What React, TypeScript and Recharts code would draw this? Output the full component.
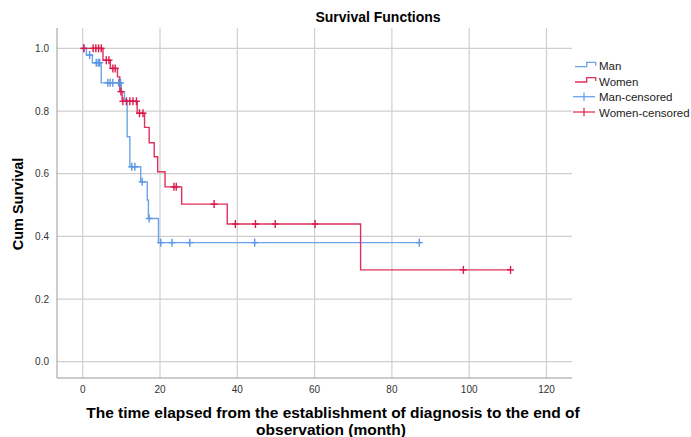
import React from "react";
import { ComposedChart, Line, Scatter, XAxis, YAxis, CartesianGrid } from "recharts";

// Man (Kaplan-Meier step curve)
const manTimes = [0, 0.95, 2.5, 4.8, 10.0, 10.8, 11.5, 12.2, 15.0, 16.7, 17.0, 19.6, 87.1];
const manSurvival = [1.0, 0.979, 0.954, 0.89, 0.862, 0.835, 0.718, 0.622, 0.574, 0.516, 0.457, 0.38, 0.38];
const manCensoredTimes = [0.3, 1.8, 3.5, 4.0, 4.4, 6.5, 7.1, 7.8, 9.3, 9.8, 12.7, 13.5, 15.4, 17.2, 20.2, 23.1, 27.7, 44.5, 87.1];
const manCensoredSurvival = [1.0, 0.979, 0.954, 0.954, 0.954, 0.89, 0.89, 0.89, 0.89, 0.89, 0.622, 0.622, 0.574, 0.457, 0.38, 0.38, 0.38, 0.38, 0.38];

// Women
const womenTimes = [0, 5.25, 7.15, 9.0, 9.6, 10.2, 14.1, 16.0, 17.2, 18.5, 19.4, 21.3, 25.6, 37.4, 71.9, 110.7];
const womenSurvival = [1.0, 0.962, 0.936, 0.909, 0.862, 0.831, 0.793, 0.748, 0.699, 0.654, 0.606, 0.558, 0.503, 0.4395, 0.293, 0.293];
const womenCensoredTimes = [0.3, 2.7, 3.4, 4.1, 4.8, 6.1, 6.8, 7.8, 8.4, 9.9, 10.4, 11.3, 12.2, 13.0, 13.9, 14.7, 15.6, 23.6, 24.2, 34.0, 39.5, 44.7, 49.8, 60.1, 98.5, 110.7];
const womenCensoredSurvival = [1.0, 1.0, 1.0, 1.0, 1.0, 0.962, 0.962, 0.936, 0.936, 0.862, 0.831, 0.831, 0.831, 0.831, 0.831, 0.793, 0.793, 0.558, 0.558, 0.503, 0.4395, 0.4395, 0.4395, 0.4395, 0.293, 0.293];

const xTicks = [0, 20, 40, 60, 80, 100, 120];
const yTicks = [0, 0.2, 0.4, 0.6, 0.8, 1.0];
const legendLabels = ["Man", "Women", "Man-censored", "Women-censored"];

const toPoints = (ts: number[], ss: number[]) => ts.map((t, i) => ({ t, s: ss[i] }));
const manCurve = toPoints(manTimes, manSurvival);
const manCensored = toPoints(manCensoredTimes, manCensoredSurvival);
const womenCurve = toPoints(womenTimes, womenSurvival);
const womenCensored = toPoints(womenCensoredTimes, womenCensoredSurvival);

const BLUE = "#6ba3ec";
const BLUE_MARK = "#5b96e4";
const RED = "#e0305c";
const RED_MARK = "#d81a4c";
const FONT = "'Liberation Sans', Arial, sans-serif";

const makeCross = (color: string) => (props: any) => {
  const { cx, cy } = props;
  if (cx == null || cy == null) return <g />;
  return (
    <g stroke={color} strokeWidth={1.4}>
      <line x1={cx - 3.5} x2={cx + 3.5} y1={cy} y2={cy} />
      <line x1={cx} x2={cx} y1={cy - 4} y2={cy + 4} />
    </g>
  );
};

const LegendBox = () => (
  <svg width={121} height={70} style={{ position: "absolute", left: 570, top: 55 }}>
    <g fontFamily={FONT} fontSize={11.5} fill="#222">
      <path d="M5,11.7 H16.7 V7.3 H25.7 V10.7" fill="none" stroke={BLUE} strokeWidth={1.3} />
      <text x={29} y={15}>{legendLabels[0]}</text>
      <path d="M5,27 H16.7 V22.6 H25.7 V26" fill="none" stroke={RED} strokeWidth={1.3} />
      <text x={29} y={31}>{legendLabels[1]}</text>
      <line x1={3} x2={25} y1={41.7} y2={41.7} stroke={BLUE} strokeWidth={1.3} />
      <line x1={14} x2={14} y1={37.5} y2={46} stroke={BLUE} strokeWidth={1.3} />
      <text x={29} y={46}>{legendLabels[2]}</text>
      <line x1={3} x2={25} y1={57} y2={57} stroke={RED} strokeWidth={1.3} />
      <line x1={14} x2={14} y1={52.8} y2={61.3} stroke={RED} strokeWidth={1.3} />
      <text x={29} y={61.5}>{legendLabels[3]}</text>
    </g>
  </svg>
);

const YTitle = () => (
  <text x={18} y={204} transform="rotate(-90 18 204)" textAnchor="middle" dominantBaseline="central"
    fontFamily={FONT} fontSize={14.5} fontWeight="bold" fill="#000">Cum Survival</text>
);

const XTitle = () => (
  <text textAnchor="middle" fontFamily={FONT} fontSize={15.5} fontWeight="bold" fill="#000">
    <tspan x={333} y={418}>The time elapsed from the establishment of diagnosis to the end of</tspan>
    <tspan x={331} y={434.5}>observation (month)</tspan>
  </text>
);

export default function App() {
  return (
    <div style={{ position: "absolute", left: 0, top: 0, width: 691, height: 437, background: "#fff", overflow: "hidden" }}>
      <div style={{ position: "absolute", left: 0, top: 9, width: 756, textAlign: "center", fontFamily: FONT, fontSize: 14, fontWeight: "bold", color: "#000" }}>
        Survival Functions
      </div>
      <ComposedChart width={691} height={437} margin={{ top: 28, right: 119, bottom: 29, left: 12 }}>
        <CartesianGrid stroke="#cfcfcf" strokeWidth={1.2} horizontalValues={yTicks} verticalValues={xTicks} />
        <XAxis
          dataKey="t"
          type="number"
          domain={[-6.65, 126.6]}
          ticks={xTicks}
          allowDataOverflow
          height={30}
          stroke="#999"
          tickLine={false}
          tick={{ fill: "#333", fontSize: 10, fontFamily: FONT }}
          label={{ content: () => <XTitle /> }}
        />
        <YAxis
          type="number"
          domain={[-0.052, 1.065]}
          ticks={yTicks}
          allowDataOverflow
          width={45}
          stroke="#999"
          tickLine={false}
          tickFormatter={(v: number) => v.toFixed(1)}
          tick={{ fill: "#333", fontSize: 10, fontFamily: FONT }}
          label={{ content: () => <YTitle /> }}
        />
        <Line data={manCurve} dataKey="s" type="stepAfter" stroke={BLUE} strokeWidth={1.4} dot={false} isAnimationActive={false} />
        <Line data={womenCurve} dataKey="s" type="stepAfter" stroke={RED} strokeWidth={1.4} dot={false} isAnimationActive={false} />
        <Scatter data={manCensored} dataKey="s" shape={makeCross(BLUE_MARK)} isAnimationActive={false} />
        <Scatter data={womenCensored} dataKey="s" shape={makeCross(RED_MARK)} isAnimationActive={false} />
      </ComposedChart>
      <LegendBox />
    </div>
  );
}
